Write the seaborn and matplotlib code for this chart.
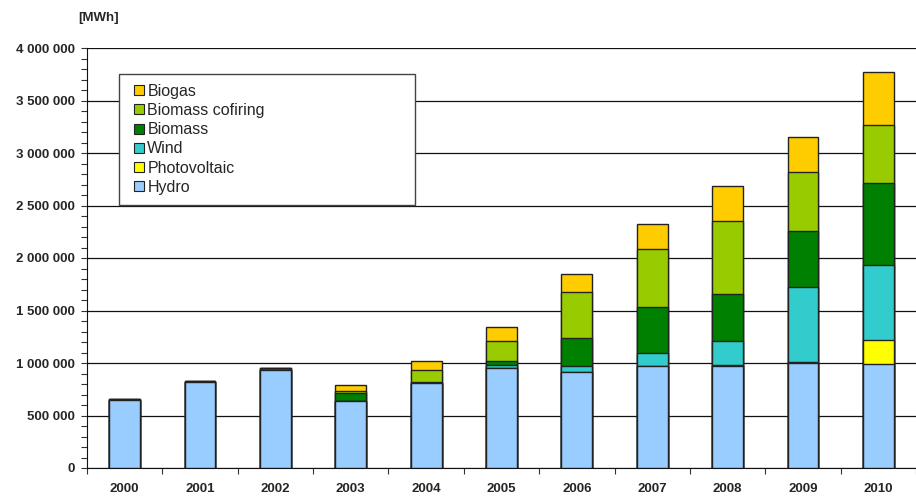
import numpy as np
import pandas as pd
import seaborn as sns
import matplotlib.pyplot as plt
from matplotlib.lines import Line2D
from matplotlib.ticker import MultipleLocator, FuncFormatter

# values in MWh
years = ['2000', '2001', '2002', '2003', '2004', '2005', '2006', '2007', '2008', '2009', '2010']
hydro = [645000, 815000, 934000, 642000, 805000, 953000, 915000, 969000, 970000, 1003000, 991000]
photovoltaic = [0, 0, 0, 0, 0, 0, 0, 0, 8000, 4000, 232000]
wind = [0, 0, 0, 0, 0, 32000, 54000, 127000, 234000, 718000, 715000]
biomass = [14000, 15000, 14000, 73000, 15000, 38000, 270000, 439000, 447000, 531000, 779000]
biomass_cofiring = [0, 0, 0, 22000, 117000, 191000, 435000, 553000, 692000, 566000, 553000]
biogas = [0, 0, 0, 50000, 86000, 126000, 169000, 234000, 334000, 330000, 501000]

series = ['Hydro', 'Photovoltaic', 'Wind', 'Biomass', 'Biomass cofiring', 'Biogas']
colors = ['#99CCFF', '#FFFF00', '#33CCCC', '#008000', '#99CC00', '#FFCC00']

df = pd.DataFrame({'Year': years, 'Hydro': hydro, 'Photovoltaic': photovoltaic,
                   'Wind': wind, 'Biomass': biomass,
                   'Biomass cofiring': biomass_cofiring, 'Biogas': biogas})
cum = df[series].cumsum(axis=1)

sns.set_style('ticks')
plt.rcParams['font.family'] = ['Liberation Sans', 'DejaVu Sans']

fig = plt.figure(figsize=(9.16, 4.96), dpi=100)
ax = fig.add_axes([87 / 916, (496 - 468) / 496, (916 - 87) / 916, (468 - 48) / 496])

# stacked bars: draw cumulative totals from the top layer down
for name, col in reversed(list(zip(series, colors))):
    sns.barplot(x=df['Year'], y=cum[name], color=col, width=0.41,
                edgecolor='#222222', linewidth=1.0, saturation=1, ax=ax, zorder=3)

ax.set_xlim(-0.5, -0.5 + (916 - 87) / 76)
ax.set_ylim(0, 4000000)
ax.yaxis.set_major_locator(MultipleLocator(500000))
ax.yaxis.set_minor_locator(MultipleLocator(100000))
ax.yaxis.set_major_formatter(FuncFormatter(lambda v, p: f"{int(v):,}".replace(',', ' ')))
ax.grid(axis='y', which='major', color='#111111', linewidth=0.9, zorder=0)
ax.set_axisbelow(True)

ax.set_xticks(np.arange(len(years)))
ax.set_xticklabels(years, fontsize=9.5, fontweight='bold')
ax.tick_params(axis='x', length=0, pad=11)
ax.set_xticks(np.arange(len(years) + 1) - 0.5, minor=True)
ax.tick_params(axis='x', which='minor', length=4, width=0.8, color='#333333')
ax.tick_params(axis='y', which='both', length=4, width=0.8, color='#333333',
               labelsize=9.5, pad=4.5)
for lab in ax.get_yticklabels():
    lab.set_fontweight('bold')

ax.set_xlabel('')
ax.set_ylabel('')
sns.despine(ax=ax, top=True, right=True)
ax.spines['left'].set_color('#111111')
ax.spines['bottom'].set_color('#111111')

fig.text(99 / 916, 1 - 18 / 496, '[MWh]', fontsize=9.5, fontweight='bold',
         ha='center', va='center')

handles = [Line2D([], [], linestyle='none', marker='s', markersize=7,
                  markerfacecolor=c, markeredgecolor='#222222', markeredgewidth=0.8,
                  label=s)
           for s, c in zip(series, colors)][::-1]
leg = ax.legend(handles=handles, loc='upper left',
                bbox_to_anchor=(119 / 916, 1 - 203 / 496, 296 / 916, 129 / 496),
                bbox_transform=fig.transFigure, mode='expand', borderaxespad=0,
                fontsize=11.5, handlelength=1.25, handletextpad=-0.1,
                labelspacing=0.26, borderpad=0.62, fancybox=False, framealpha=1,
                edgecolor='#444444')
leg.get_frame().set_linewidth(1.0)

fig.savefig('out.png', dpi=100)
